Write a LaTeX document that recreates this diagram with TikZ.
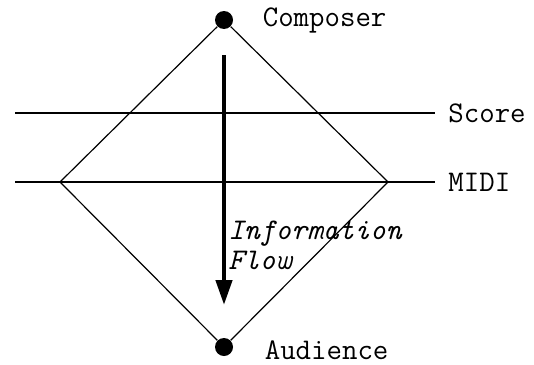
\documentclass[tikz,border=0pt]{standalone}
\usepackage{fontspec}
\usetikzlibrary{arrows.meta,positioning}

\begin{document}
\begin{tikzpicture}[x=0.5pt, y=-0.5pt,
    dot/.style={circle, fill=black, inner sep=0pt, minimum size=9pt},
    lbl/.style={font=\fontsize{15}{15}\selectfont\ttfamily, inner sep=0pt},
    edge/.style={line width=0.6pt},
    flow/.style={-{Triangle[length=12.5pt, width=8pt]}, line width=2.2pt}
]
\useasboundingbox (0,0) rectangle (534,364);

% the two ends
\node[dot] (comp) at (224,20) {};
\node[dot] (aud) at (224,347) {};
\coordinate (left) at (60,182);
\coordinate (right) at (388,182);

% levels
\coordinate (score-l) at (15,113);
\coordinate (score-r) at (435,113);
\coordinate (midi-l) at (15,182);
\coordinate (midi-r) at (435,182);

\node[lbl, right=14.5pt of comp] (complbl) {Composer};
\node[lbl, right=15.5pt of aud, yshift=-1.5pt] (audlbl) {Audience};
\node[lbl, right=6.5pt of score-r] (scorelbl) {Score};
\node[lbl, right=6.5pt of midi-r] (midilbl) {MIDI};

\draw[edge] (comp) -- (right) -- (aud) -- (left) -- (comp);
\draw[edge] (score-l) -- (score-r);
\draw[edge] (midi-l) -- (midi-r);

% flow arrow
\coordinate (flow-top) at (224,55);
\coordinate (flow-end) at (224,305);
\draw[flow] (flow-top) -- (flow-end);
\node[lbl, font=\fontsize{15}{15}\selectfont\ttfamily\itshape, align=left, anchor=north west] (flowlbl) at (228,221) {Information\\Flow};
\end{tikzpicture}
\end{document}
